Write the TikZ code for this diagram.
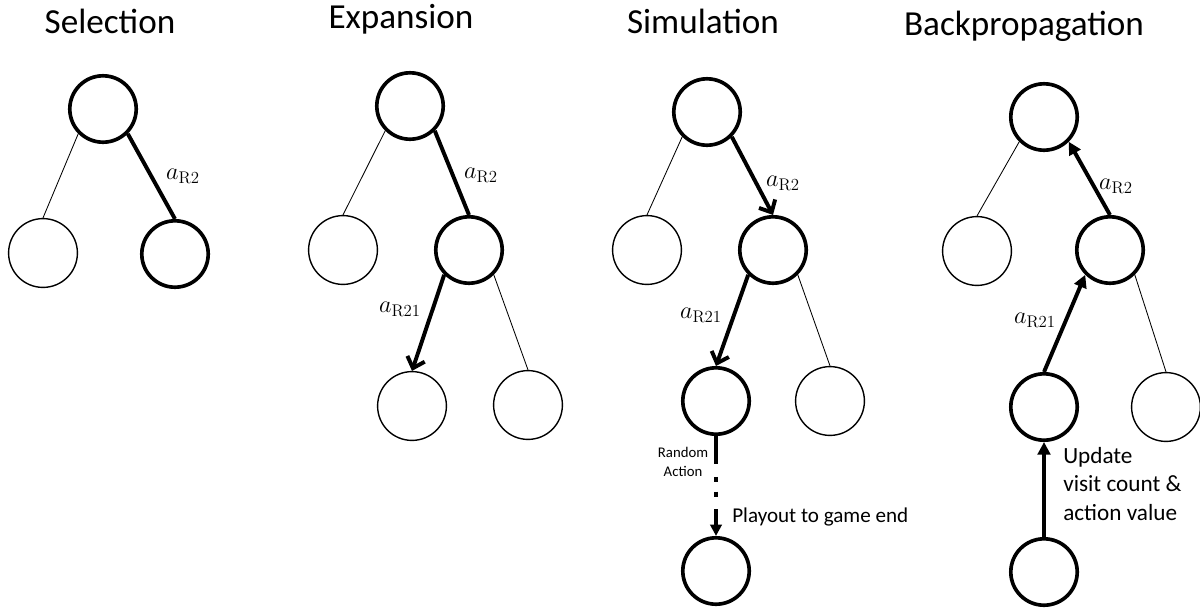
\documentclass[tikz,border=0pt]{standalone}
\usepackage[no-math]{fontspec}
\setmainfont{Carlito}
\usetikzlibrary{arrows.meta, positioning}

\tikzset{
    bignode/.style = {draw, circle, line width=2.6pt, minimum size=1.66cm, inner sep=0pt},
    smallnode/.style = {draw, circle, line width=1pt, minimum size=1.72cm, inner sep=0pt},
    chosen/.style = {line width=2.8pt},
    unchosen/.style = {line width=0.6pt},
    descend/.style = {chosen, -{Straight Barb[length=7pt, width=13pt]}},
    ascend/.style = {chosen, -{Triangle[length=9pt, width=9pt]}},
    heading/.style = {anchor=base, inner sep=0pt, font=\fontsize{25}{30}\selectfont},
    act/.style = {inner sep=0pt, font=\fontsize{17.28}{20}\selectfont}
}

\begin{document}
\begin{tikzpicture}[x=0.025cm, y=-0.025cm]

    \useasboundingbox (0,0) rectangle (1200,612);

    % titles
    \node[heading] (t-sel) at (110,33) {Selection};
    \node[heading] (t-exp) at (401,28) {Expansion};
    \node[heading] (t-sim) at (703,33) {Simulation};
    \node[heading] (t-back) at (1024,35) {Backpropagation};

    % selection
    \node[bignode] (sel-root) at (103,109) {};
    \node[smallnode] (sel-l) at (43,253) {};
    \node[bignode] (sel-r) at (175,254) {};
    \draw[unchosen] (sel-root.south west) -- (sel-l.north);
    \draw[chosen] (sel-root.south east) -- (sel-r.north);
    \node[act] (sel-a) at (183,176) {$a_{\mathrm{R2}}$};

    % expansion
    \node[bignode] (exp-root) at (410,106) {};
    \node[smallnode] (exp-l) at (343,250) {};
    \node[bignode] (exp-r) at (469,250) {};
    \node[smallnode] (exp-rl) at (412,406) {};
    \node[smallnode] (exp-rr) at (528,405) {};
    \draw[unchosen] (exp-root.south west) -- (exp-l.north);
    \draw[chosen] (exp-root.south east) -- (exp-r.north);
    \draw[descend] (exp-r.south west) -- (exp-rl.north);
    \draw[unchosen] (exp-r.south east) -- (exp-rr.north);
    \node[act] (exp-a) at (481,175) {$a_{\mathrm{R2}}$};
    \node[act] (exp-b) at (400,309) {$a_{\mathrm{R21}}$};

    % simulation
    \node[bignode] (sim-root) at (707,112) {};
    \node[smallnode] (sim-l) at (647,250) {};
    \node[bignode] (sim-r) at (773,250) {};
    \node[bignode] (sim-rl) at (716,401) {};
    \node[smallnode] (sim-rr) at (830,401) {};
    \node[bignode] (sim-end) at (716,571) {};
    \draw[unchosen] (sim-root.south west) -- (sim-l.north);
    \draw[descend] (sim-root.south east) -- (sim-r.north);
    \draw[descend] (sim-r.south west) -- (sim-rl.north);
    \draw[unchosen] (sim-r.south east) -- (sim-rr.north);
    \draw[chosen, dash pattern=on 20pt off 9pt on 3.5pt off 7pt on 3.5pt off 9pt on 60pt,
        -{Triangle[length=8pt, width=8pt]}] (sim-rl.south) -- (sim-end.north);
    \node[act] (sim-a) at (783,183) {$a_{\mathrm{R2}}$};
    \node[act] (sim-b) at (701,315) {$a_{\mathrm{R21}}$};
    \node[align=center, inner sep=0pt, font=\fontsize{10.5}{13}\selectfont]
        (sim-rand) at (683,462) {Random\\Action};
    \node[anchor=base west, inner sep=0pt, font=\fontsize{15}{18}\selectfont]
        (sim-play) at (732,522) {Playout to game end};

    % backpropagation
    \node[bignode] (back-root) at (1044,117) {};
    \node[smallnode] (back-l) at (977,251) {};
    \node[bignode] (back-r) at (1110,250) {};
    \node[bignode] (back-rl) at (1044,407) {};
    \node[smallnode] (back-rr) at (1166,407) {};
    \node[bignode] (back-end) at (1044,572) {};
    \draw[unchosen] (back-root.south west) -- (back-l.north);
    \draw[ascend] (back-r.north) -- (back-root.south east);
    \draw[ascend] (back-rl.north) -- (back-r.south west);
    \draw[unchosen] (back-r.south east) -- (back-rr.north);
    \draw[ascend] (back-end.north) -- (back-rl.south);
    \node[act] (back-a) at (1116,186) {$a_{\mathrm{R2}}$};
    \node[act] (back-b) at (1035,320) {$a_{\mathrm{R21}}$};
    \node[anchor=north west, align=left, inner sep=0pt, font=\fontsize{16.5}{20.2}\selectfont]
        (back-upd) at (1063,447) {Update\\visit count \&\\action value};

\end{tikzpicture}
\end{document}
